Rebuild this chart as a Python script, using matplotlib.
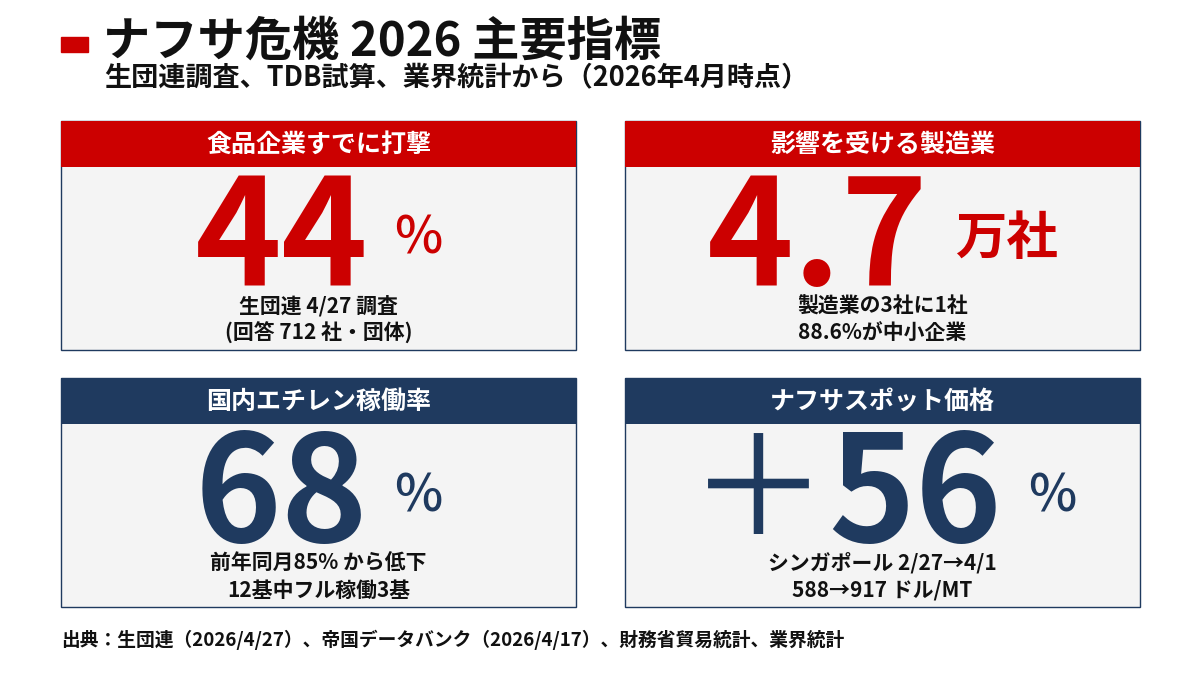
import matplotlib
matplotlib.use("Agg")
import matplotlib.pyplot as plt
from matplotlib.patches import Rectangle

plt.rcParams['font.family'] = ['Noto Sans CJK JP', 'DejaVu Sans']

RED = "#CC0000"
NAVY = "#1F3A5F"
CARD_BG = "#F4F4F4"

# データ
title = "ナフサ危機 2026 主要指標"
subtitle = "生団連調査、TDB試算、業界統計から（2026年4月時点）"
source = "出典：生団連（2026/4/27）、帝国データバンク（2026/4/17）、財務省貿易統計、業界統計"

headers = ["食品企業すでに打撃", "影響を受ける製造業", "国内エチレン稼働率", "ナフサスポット価格"]
values = ["44", "4.7", "68", "＋56"]
units = ["%", "万社", "%", "%"]
notes = [
    ["生団連 4/27 調査", "(回答 712 社・団体)"],
    ["製造業の3社に1社", "88.6%が中小企業"],
    ["前年同月85% から低下", "12基中フル稼働3基"],
    ["シンガポール 2/27→4/1", "588→917 ドル/MT"],
]
colors = [RED, RED, NAVY, NAVY]

fig = plt.figure(figsize=(12, 6.75), dpi=100)
ax = fig.add_axes([0, 0, 1, 1])
ax.set_xlim(0, 1200)
ax.set_ylim(675, 0)
ax.axis("off")

# タイトル
ax.add_patch(Rectangle((61, 37), 27, 15, color=RED))
ax.text(103, 42, title, fontsize=34, fontweight="bold", va="center", color="#111111")
ax.text(104, 78, subtitle, fontsize=19.5, fontweight="bold", va="center", color="#111111")

card_x = [61, 625, 61, 625]
card_y = [121, 121, 378, 378]
card_w = 515
card_h = 229
header_h = 46

fig.canvas.draw()
renderer = fig.canvas.get_renderer()

for i in range(4):
    x0, y0 = card_x[i], card_y[i]
    c = colors[i]
    ax.add_patch(Rectangle((x0, y0), card_w, card_h, facecolor=CARD_BG,
                           edgecolor=NAVY, linewidth=1.0, zorder=1))
    ax.add_patch(Rectangle((x0, y0), card_w, header_h, facecolor=c,
                           edgecolor="none", zorder=3))
    ax.text(x0 + card_w / 2, y0 + header_h / 2 + 1, headers[i], color="white",
            fontsize=18, fontweight="bold", ha="center", va="center", zorder=4)

    # 大きな数字と単位をまとめて中央に配置（符号は細字）
    base = y0 + 164
    val = values[i]
    sign = val[0] if val[0] in "＋－" else ""
    num = val[len(sign):]
    parts = []
    if sign:
        parts.append((ax.text(0, base - 6, sign, fontsize=100, fontweight="regular",
                              color=c, ha="left", va="baseline", zorder=2), 0))
    parts.append((ax.text(0, base, num, fontsize=106, fontweight="bold", color=c,
                          ha="left", va="baseline", zorder=2), 26))
    unit_w = "medium" if units[i] == "%" else "bold"
    parts.append((ax.text(0, base - 31, units[i], fontsize=37, fontweight=unit_w,
                          color=c, ha="left", va="baseline", zorder=2), 0))
    widths = [t.get_window_extent(renderer).width for t, _ in parts]
    total = sum(widths) + sum(g for _, g in parts)
    x = x0 + card_w / 2 - total / 2
    for (t, g), w in zip(parts, widths):
        t.set_x(x)
        x += w + g

    for j, line in enumerate(notes[i]):
        ax.text(x0 + card_w / 2, y0 + 185 + j * 27, line, fontsize=15,
                fontweight="bold", ha="center", va="center", color="#111111", zorder=2)

ax.text(61, 640, source, fontsize=13.5, fontweight="bold", va="center", color="#111111")

fig.savefig("out.png", dpi=100)
